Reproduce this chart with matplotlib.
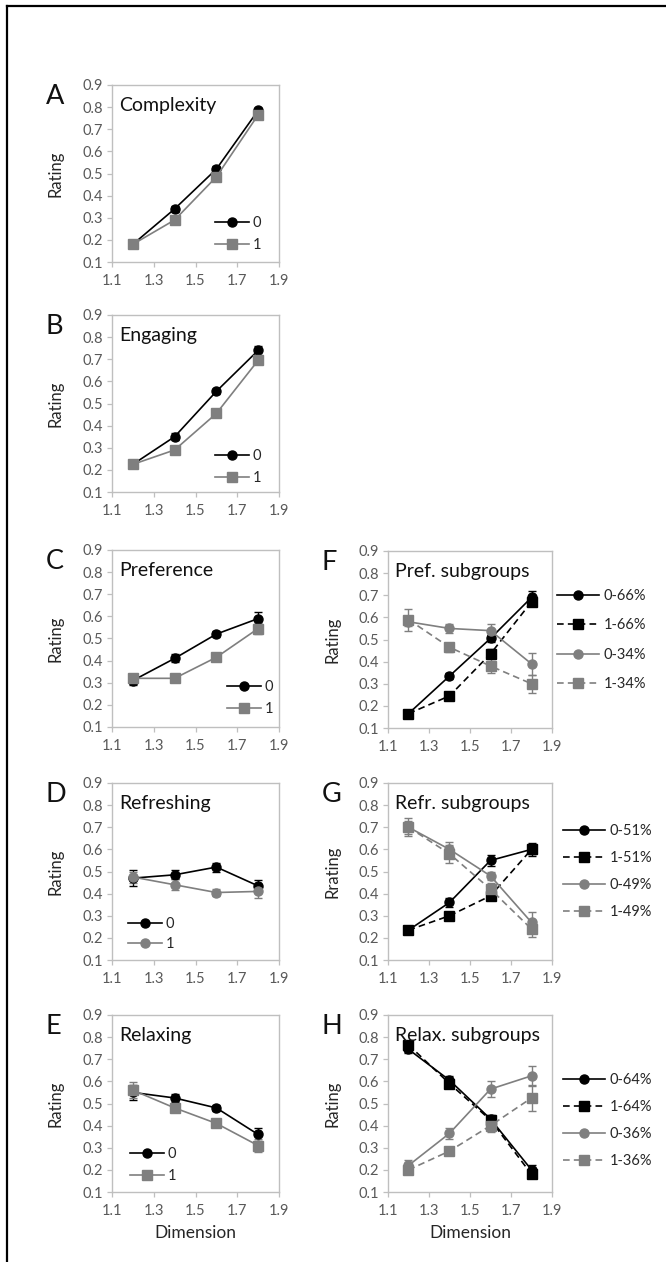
import matplotlib
matplotlib.use("Agg")
import matplotlib.pyplot as plt
from matplotlib.lines import Line2D

plt.rcParams['font.family'] = ['Lato', 'DejaVu Sans']

# ---------------- data ----------------
x_dim = [1.2, 1.4, 1.6, 1.8]
x_ticks = [1.1, 1.3, 1.5, 1.7, 1.9]
y_ticks = [0.1, 0.2, 0.3, 0.4, 0.5, 0.6, 0.7, 0.8, 0.9]

A_0 = [0.18, 0.34, 0.52, 0.785]
A_0_err = [0.01, 0.012, 0.012, 0.012]
A_1 = [0.18, 0.29, 0.485, 0.765]
A_1_err = [0.01, 0.01, 0.01, 0.012]

B_0 = [0.225, 0.35, 0.555, 0.74]
B_0_err = [0.01, 0.015, 0.012, 0.02]
B_1 = [0.225, 0.29, 0.455, 0.695]
B_1_err = [0.01, 0.01, 0.01, 0.015]

C_0 = [0.31, 0.41, 0.52, 0.59]
C_0_err = [0.02, 0.018, 0.015, 0.03]
C_1 = [0.32, 0.32, 0.415, 0.545]
C_1_err = [0.018, 0.01, 0.012, 0.025]

D_0 = [0.47, 0.485, 0.52, 0.435]
D_0_err = [0.035, 0.02, 0.02, 0.025]
D_1 = [0.475, 0.44, 0.405, 0.41]
D_1_err = [0.025, 0.025, 0.015, 0.03]

E_0 = [0.55, 0.525, 0.48, 0.36]
E_0_err = [0.035, 0.02, 0.015, 0.03]
E_1 = [0.56, 0.48, 0.41, 0.31]
E_1_err = [0.035, 0.02, 0.015, 0.03]

F_0_66 = [0.165, 0.335, 0.505, 0.69]
F_0_66_err = [0.01, 0.015, 0.015, 0.03]
F_1_66 = [0.165, 0.245, 0.435, 0.67]
F_1_66_err = [0.01, 0.01, 0.02, 0.02]
F_0_34 = [0.58, 0.55, 0.54, 0.39]
F_0_34_err = [0.02, 0.02, 0.03, 0.05]
F_1_34 = [0.59, 0.465, 0.38, 0.30]
F_1_34_err = [0.05, 0.02, 0.03, 0.04]

G_0_51 = [0.235, 0.36, 0.55, 0.60]
G_0_51_err = [0.01, 0.02, 0.025, 0.03]
G_1_51 = [0.235, 0.30, 0.39, 0.60]
G_1_51_err = [0.01, 0.015, 0.015, 0.02]
G_0_49 = [0.70, 0.60, 0.48, 0.27]
G_0_49_err = [0.03, 0.035, 0.02, 0.045]
G_1_49 = [0.70, 0.58, 0.42, 0.24]
G_1_49_err = [0.04, 0.04, 0.03, 0.035]

H_0_64 = [0.745, 0.605, 0.43, 0.20]
H_0_64_err = [0.015, 0.02, 0.02, 0.02]
H_1_64 = [0.765, 0.59, 0.425, 0.18]
H_1_64_err = [0.015, 0.02, 0.02, 0.015]
H_0_36 = [0.22, 0.365, 0.565, 0.625]
H_0_36_err = [0.025, 0.025, 0.035, 0.045]
H_1_36 = [0.20, 0.285, 0.40, 0.525]
H_1_36_err = [0.02, 0.015, 0.03, 0.06]

# ---------------- layout ----------------
W, H = 666, 1262
fig = plt.figure(figsize=(W / 100, H / 100), dpi=100)

BLACK = '#000000'
GRAY = '#7f7f7f'
TICKC = '#595959'
SPINE = '#bfbfbf'


def rect(l, t, w, h):
    return [l / W, 1 - (t + h) / H, w / W, h / H]


def px2fig(x, y):
    return (x / W, 1 - y / H)


def series(ax, x, y, e, color, marker, ls, label):
    ax.errorbar(x, y, yerr=e, color=color, marker=marker, ls=ls, lw=1.2,
                markersize=6.5, capsize=3, elinewidth=1.0, capthick=1.0,
                label=label, dashes=(4, 2.5) if ls == '--' else (None, None))


def make_axes(l, t, w, h, letter, title, ylabel, xlabel=None):
    ax = fig.add_axes(rect(l, t, w, h))
    ax.set_xlim(1.1, 1.9)
    ax.set_ylim(0.1, 0.9)
    ax.set_xticks(x_ticks)
    ax.set_yticks(y_ticks)
    ax.set_xticklabels([f"{v:.1f}" for v in x_ticks])
    ax.set_yticklabels([f"{v:.1f}" for v in y_ticks])
    for s in ax.spines.values():
        s.set_color(SPINE)
        s.set_linewidth(1.0)
    ax.tick_params(axis='both', direction='out', length=3.5, width=0.9,
                   color=SPINE, labelcolor=TICKC, labelsize=10.5)
    ax.tick_params(axis='x', pad=5)
    ax.tick_params(axis='y', pad=3)
    ax.set_ylabel(ylabel, fontsize=12, color='#262626')
    ax.yaxis.set_label_coords(-0.29, 0.5)
    if xlabel:
        ax.set_xlabel(xlabel, fontsize=12.5, color='#262626', labelpad=5)
    ax.text(0.045, 0.935, title, transform=ax.transAxes, fontsize=14,
            color='#111111', va='top', ha='left')
    fx, fy = px2fig(l - 66, t - 1)
    fig.text(fx, fy, letter, fontsize=19.5, va='top', ha='left', color='#111111')
    return ax


def legend(ax, x_px, y_px, hl, spacing, fs=10.5):
    handles, labels = ax.get_legend_handles_labels()
    handles = [h[0] for h in handles]
    fx, fy = px2fig(x_px, y_px)
    leg = ax.legend(handles, labels, loc='upper left', bbox_to_anchor=(fx, fy),
                    bbox_transform=fig.transFigure, frameon=False,
                    borderpad=0, borderaxespad=0, handlelength=hl,
                    handletextpad=0.3, labelspacing=spacing, fontsize=fs,
                    labelcolor='#262626')
    return leg


LX, LW = 112, 167
RX, RW = 388, 164
AH = 177

# A
ax = make_axes(LX, 85, LW, AH, 'A', 'Complexity', 'Rating')
series(ax, x_dim, A_0, A_0_err, BLACK, 'o', '-', '0')
series(ax, x_dim, A_1, A_1_err, GRAY, 's', '-', '1')
legend(ax, 215, 216, 2.3, 0.55)

# B
ax = make_axes(LX, 315, LW, AH, 'B', 'Engaging', 'Rating')
series(ax, x_dim, B_0, B_0_err, BLACK, 'o', '-', '0')
series(ax, x_dim, B_1, B_1_err, GRAY, 's', '-', '1')
legend(ax, 215, 449, 2.3, 0.55)

# C
ax = make_axes(LX, 550, LW, AH, 'C', 'Preference', 'Rating')
series(ax, x_dim, C_0, C_0_err, BLACK, 'o', '-', '0')
series(ax, x_dim, C_1, C_1_err, GRAY, 's', '-', '1')
legend(ax, 227, 680, 2.3, 0.55)

# D
ax = make_axes(LX, 783, LW, AH, 'D', 'Refreshing', 'Rating')
series(ax, x_dim, D_0, D_0_err, BLACK, 'o', '-', '0')
series(ax, x_dim, D_1, D_1_err, GRAY, 'o', '-', '1')
legend(ax, 128, 917, 2.3, 0.4)

# E
ax = make_axes(LX, 1015, LW, AH, 'E', 'Relaxing', 'Rating', 'Dimension')
series(ax, x_dim, E_0, E_0_err, BLACK, 'o', '-', '0')
series(ax, x_dim, E_1, E_1_err, GRAY, 's', '-', '1')
legend(ax, 130, 1147, 2.3, 0.55)

# F
ax = make_axes(RX, 551, RW, AH, 'F', 'Pref. subgroups', 'Rating')
series(ax, x_dim, F_0_66, F_0_66_err, BLACK, 'o', '-', '0-66%')
series(ax, x_dim, F_1_66, F_1_66_err, BLACK, 's', '--', '1-66%')
series(ax, x_dim, F_0_34, F_0_34_err, GRAY, 'o', '-', '0-34%')
series(ax, x_dim, F_1_34, F_1_34_err, GRAY, 's', '--', '1-34%')
legend(ax, 557, 589, 2.9, 1.05)

# G
ax = make_axes(RX, 783, RW, AH, 'G', 'Refr. subgroups', 'Rrating')
series(ax, x_dim, G_0_51, G_0_51_err, BLACK, 'o', '-', '0-51%')
series(ax, x_dim, G_1_51, G_1_51_err, BLACK, 's', '--', '1-51%')
series(ax, x_dim, G_0_49, G_0_49_err, GRAY, 'o', '-', '0-49%')
series(ax, x_dim, G_1_49, G_1_49_err, GRAY, 's', '--', '1-49%')
legend(ax, 563, 824, 2.9, 0.9)

# H
ax = make_axes(RX, 1015, RW, AH, 'H', 'Relax. subgroups', 'Rating', 'Dimension')
series(ax, x_dim, H_0_64, H_0_64_err, BLACK, 'o', '-', '0-64%')
series(ax, x_dim, H_1_64, H_1_64_err, BLACK, 's', '--', '1-64%')
series(ax, x_dim, H_0_36, H_0_36_err, GRAY, 'o', '-', '0-36%')
series(ax, x_dim, H_1_36, H_1_36_err, GRAY, 's', '--', '1-36%')
legend(ax, 563, 1073, 2.9, 0.9)

# outer frame (left and top edges only)
fig.add_artist(Line2D([7 / W, 7 / W], [0, 1 - 6 / H], color='black', lw=1.6,
                      transform=fig.transFigure))
fig.add_artist(Line2D([7 / W, 1], [1 - 6 / H, 1 - 6 / H], color='black', lw=1.6,
                      transform=fig.transFigure))

fig.savefig('out.png', dpi=100)
